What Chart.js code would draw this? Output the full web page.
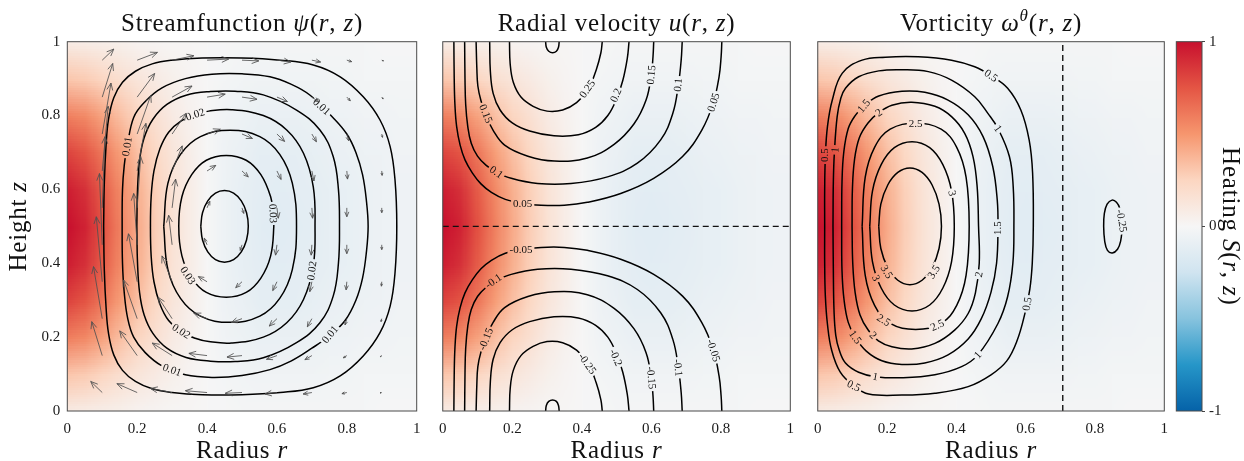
<!DOCTYPE html>
<html><head><meta charset="utf-8">
<script src="https://cdn.jsdelivr.net/npm/chart.js@4.4.1/dist/chart.umd.min.js"></script>
<style>
html,body{margin:0;padding:0;background:#fff;}
#wrap{position:relative;width:1244px;height:461px;overflow:hidden;background:#fff;}
canvas{position:absolute;top:0;}
</style></head><body>
<div id="wrap">
<canvas id="c1" style="left:0px" width="430" height="461"></canvas>
<canvas id="c2" style="left:430px" width="380" height="461"></canvas>
<canvas id="c3" style="left:805px" width="380" height="461"></canvas>
<canvas id="cb" style="left:1168px" width="76" height="461"></canvas>
</div>
<script>
// ---------------- data ----------------
const rTicks = [0, 0.2, 0.4, 0.6, 0.8, 1];
const rTickLabels = ['0', '0.2', '0.4', '0.6', '0.8', '1'];
const zTicks = [0, 0.2, 0.4, 0.6, 0.8, 1];
const zTickLabels = ['0', '0.2', '0.4', '0.6', '0.8', '1'];
const cbTicks = [-1, 0, 1];
const cbTickLabels = ['-1', '0', '1'];

// heating S(r,z): rows z = 0..1 (step 0.1), columns r = 0..1 (step 0.05)
const heatR = [0,0.05,0.1,0.15,0.2,0.25,0.3,0.35,0.4,0.45,0.5,0.55,0.6,0.65,0.7,0.75,0.8,0.85,0.9,0.95,1];
const heatZ = [0,0.1,0.2,0.3,0.4,0.5,0.6,0.7,0.8,0.9,1];
const heatGrid = [
 [0.08,0.07,0.06,0.05,0.03,0.02,0.01,0.01,0,0,-0.01,-0.01,-0.01,-0.01,-0.01,-0.01,-0.01,-0.01,0,0,0],
 [0.31,0.29,0.24,0.18,0.13,0.09,0.05,0.02,0,-0.02,-0.03,-0.04,-0.04,-0.04,-0.04,-0.03,-0.03,-0.02,-0.02,-0.02,-0.02],
 [0.59,0.55,0.45,0.34,0.25,0.17,0.09,0.04,0,-0.04,-0.06,-0.08,-0.08,-0.08,-0.07,-0.06,-0.05,-0.04,-0.04,-0.03,-0.03],
 [0.81,0.75,0.62,0.47,0.34,0.23,0.13,0.06,0,-0.05,-0.08,-0.11,-0.11,-0.11,-0.10,-0.08,-0.07,-0.06,-0.05,-0.04,-0.04],
 [0.95,0.88,0.72,0.55,0.40,0.27,0.15,0.07,0,-0.06,-0.10,-0.12,-0.13,-0.12,-0.11,-0.10,-0.09,-0.07,-0.06,-0.05,-0.05],
 [1.00,0.93,0.76,0.58,0.42,0.28,0.16,0.07,0,-0.06,-0.10,-0.13,-0.14,-0.13,-0.12,-0.10,-0.09,-0.07,-0.06,-0.05,-0.05],
 [0.95,0.88,0.72,0.55,0.40,0.27,0.15,0.07,0,-0.06,-0.10,-0.12,-0.13,-0.12,-0.11,-0.10,-0.09,-0.07,-0.06,-0.05,-0.05],
 [0.81,0.75,0.62,0.47,0.34,0.23,0.13,0.06,0,-0.05,-0.08,-0.11,-0.11,-0.11,-0.10,-0.08,-0.07,-0.06,-0.05,-0.04,-0.04],
 [0.59,0.55,0.45,0.34,0.25,0.17,0.09,0.04,0,-0.04,-0.06,-0.08,-0.08,-0.08,-0.07,-0.06,-0.05,-0.04,-0.04,-0.03,-0.03],
 [0.31,0.29,0.24,0.18,0.13,0.09,0.05,0.02,0,-0.02,-0.03,-0.04,-0.04,-0.04,-0.04,-0.03,-0.03,-0.02,-0.02,-0.02,-0.02],
 [0.08,0.07,0.06,0.05,0.03,0.02,0.01,0.01,0,0,-0.01,-0.01,-0.01,-0.01,-0.01,-0.01,-0.01,-0.01,0,0,0]
];
const cmapStops = [
 [-1,[5,98,168]],[-0.75,[38,150,200]],[-0.5,[135,195,222]],[-0.25,[208,228,240]],
 [0,[246,246,246]],[0.25,[252,214,193]],[0.5,[246,150,110]],[0.75,[228,85,68]],[1,[200,16,46]]
];

// streamfunction contours (closed loops), levels 0.035 ... 0.005
const psiLevels = [0.035,0.03,0.025,0.02,0.015,0.01,0.005];
const psiContours = [
 [[0.382,0.50],[0.387,0.537],[0.402,0.569],[0.424,0.590],[0.45,0.597],[0.476,0.590],[0.498,0.569],[0.513,0.537],[0.518,0.50],[0.513,0.463],[0.498,0.431],[0.476,0.410],[0.45,0.403],[0.424,0.410],[0.402,0.431],[0.387,0.463],[0.382,0.50]],
 [[0.589,0.535],[0.582,0.580],[0.554,0.640],[0.512,0.679],[0.455,0.692],[0.398,0.679],[0.356,0.640],[0.328,0.580],[0.319,0.50],[0.328,0.420],[0.356,0.360],[0.398,0.321],[0.455,0.308],[0.512,0.321],[0.554,0.360],[0.582,0.420],[0.591,0.50],[0.589,0.535]],
 [[0.276,0.50],[0.288,0.617],[0.324,0.695],[0.381,0.743],[0.466,0.76],[0.551,0.743],[0.608,0.695],[0.644,0.617],[0.656,0.50],[0.644,0.383],[0.608,0.305],[0.551,0.257],[0.466,0.24],[0.381,0.257],[0.324,0.305],[0.288,0.383],[0.276,0.50]],
 [[0.366,0.803],[0.405,0.812],[0.47,0.816],[0.561,0.80],[0.628,0.761],[0.676,0.698],[0.704,0.607],[0.709,0.50],[0.704,0.393],[0.676,0.302],[0.628,0.239],[0.561,0.20],[0.47,0.184],[0.405,0.188],[0.366,0.197],[0.325,0.215],[0.29,0.245],[0.265,0.29],[0.248,0.35],[0.24,0.42],[0.238,0.50],[0.24,0.58],[0.248,0.65],[0.265,0.71],[0.29,0.755],[0.325,0.785],[0.366,0.803]],
 [[0.199,0.50],[0.201,0.60],[0.207,0.68],[0.22,0.74],[0.245,0.79],[0.285,0.83],[0.34,0.855],[0.41,0.865],[0.48,0.866],[0.561,0.856],[0.656,0.815],[0.723,0.761],[0.761,0.689],[0.776,0.60],[0.779,0.50],[0.776,0.40],[0.761,0.311],[0.723,0.239],[0.656,0.185],[0.561,0.144],[0.48,0.134],[0.41,0.135],[0.34,0.145],[0.285,0.17],[0.245,0.21],[0.22,0.26],[0.207,0.32],[0.201,0.40],[0.199,0.50]],
 [[0.171,0.716],[0.19,0.795],[0.223,0.838],[0.271,0.875],[0.338,0.900],[0.414,0.912],[0.50,0.913],[0.58,0.905],[0.64,0.885],[0.695,0.855],[0.76,0.795],[0.80,0.75],[0.826,0.70],[0.845,0.64],[0.856,0.57],[0.861,0.50],[0.856,0.43],[0.845,0.36],[0.826,0.30],[0.795,0.245],[0.752,0.205],[0.70,0.17],[0.64,0.135],[0.58,0.112],[0.50,0.096],[0.414,0.091],[0.338,0.098],[0.271,0.122],[0.223,0.158],[0.19,0.2],[0.173,0.25],[0.163,0.32],[0.158,0.40],[0.157,0.50],[0.158,0.60],[0.163,0.665],[0.171,0.716]],
 [[0.104,0.50],[0.106,0.62],[0.111,0.72],[0.118,0.79],[0.133,0.848],[0.158,0.89],[0.195,0.920],[0.243,0.940],[0.30,0.950],[0.386,0.956],[0.50,0.956],[0.609,0.950],[0.704,0.937],[0.781,0.905],[0.847,0.851],[0.895,0.788],[0.924,0.716],[0.938,0.625],[0.943,0.50],[0.938,0.375],[0.924,0.284],[0.895,0.212],[0.847,0.149],[0.781,0.095],[0.704,0.063],[0.609,0.050],[0.50,0.044],[0.386,0.044],[0.30,0.050],[0.243,0.060],[0.195,0.080],[0.158,0.110],[0.133,0.152],[0.118,0.21],[0.111,0.28],[0.106,0.38],[0.104,0.50]]
];
// [r, z, text, rotation deg]
const psiLabels = [
 [0.171,0.716,'0.01',-80],[0.728,0.824,'0.01',42],[0.752,0.207,'0.01',-50],[0.30,0.111,'0.01',20],
 [0.366,0.803,'0.02',-18],[0.326,0.216,'0.02',32],[0.70,0.38,'0.02',-82],
 [0.589,0.535,'0.03',88],[0.345,0.367,'0.03',56]
];
// quiver: tails at r = quiverR, z = quiverZ; drawn displacement (dr, dz)
const quiverR = [0.1,0.2,0.3,0.4,0.5,0.6,0.7,0.8,0.9];
const quiverZ = [0.05,0.15,0.25,0.35,0.45,0.55,0.65,0.75,0.85,0.95];
const quiverDR = [
 [-0.033,-0.058,-0.062,-0.062,-0.048,-0.034,-0.025,-0.014,-0.005],
 [-0.030,-0.050,-0.057,-0.052,-0.043,-0.030,-0.020,-0.010,-0.004],
 [-0.025,-0.039,-0.040,-0.038,-0.030,-0.022,-0.013,-0.005,-0.002],
 [-0.017,-0.025,-0.029,-0.025,-0.018,-0.012,-0.006,-0.002,-0.001],
 [-0.008,-0.010,-0.010,-0.008,-0.005,-0.004,-0.002,0,0],
 [0.008,0.010,0.010,0.008,0.005,0.004,0.002,0,0],
 [0.017,0.025,0.029,0.025,0.018,0.012,0.006,0.002,0.001],
 [0.025,0.039,0.040,0.038,0.030,0.022,0.013,0.005,0.002],
 [0.030,0.050,0.057,0.052,0.043,0.030,0.020,0.010,0.004],
 [0.033,0.058,0.062,0.062,0.048,0.040,0.025,0.014,0.005]
];
const quiverDZ = [
 [0.030,0.024,0.011,0.005,-0.002,-0.004,-0.004,-0.003,-0.001],
 [0.092,0.067,0.034,0.006,-0.004,-0.010,-0.011,-0.006,-0.003],
 [0.141,0.105,0.058,0.015,-0.010,-0.020,-0.022,-0.017,-0.008],
 [0.176,0.130,0.070,0.014,-0.016,-0.024,-0.027,-0.022,-0.012],
 [0.193,0.139,0.080,0.018,-0.015,-0.028,-0.028,-0.024,-0.013],
 [0.193,0.139,0.078,0.018,-0.015,-0.028,-0.028,-0.024,-0.013],
 [0.175,0.129,0.068,0.015,-0.016,-0.023,-0.027,-0.022,-0.012],
 [0.138,0.105,0.056,0.013,-0.012,-0.020,-0.021,-0.018,-0.009],
 [0.091,0.064,0.030,0.008,-0.006,-0.012,-0.013,-0.010,-0.005],
 [0.030,0.021,0.012,0.003,-0.002,-0.005,-0.005,-0.004,-0.002]
];

// radial velocity contours (open curves)
const uLevels = [0.05,0.1,0.15,0.2,0.25,0.3,-0.05,-0.1,-0.15,-0.2,-0.25,-0.3];
const uContours = [
 [[0.032,1.0],[0.033,0.90],[0.035,0.83],[0.040,0.77],[0.050,0.72],[0.064,0.68],[0.085,0.645],[0.110,0.615],[0.140,0.592],[0.180,0.573],[0.230,0.562],[0.283,0.557],[0.35,0.557],[0.416,0.565],[0.512,0.589],[0.607,0.630],[0.690,0.689],[0.745,0.76],[0.778,0.833],[0.795,0.905],[0.801,0.96],[0.803,1.0]],
 [[0.063,1.0],[0.064,0.90],[0.066,0.83],[0.072,0.77],[0.082,0.725],[0.100,0.69],[0.125,0.665],[0.154,0.647],[0.197,0.630],[0.273,0.616],[0.369,0.616],[0.474,0.634],[0.560,0.671],[0.627,0.734],[0.662,0.806],[0.678,0.883],[0.686,0.950],[0.689,1.0]],
 [[0.096,1.0],[0.098,0.93],[0.101,0.88],[0.110,0.84],[0.125,0.80],[0.145,0.76],[0.178,0.72],[0.245,0.69],[0.321,0.677],[0.416,0.685],[0.493,0.722],[0.550,0.777],[0.585,0.842],[0.600,0.91],[0.605,0.96],[0.607,1.0]],
 [[0.135,1.0],[0.137,0.92],[0.145,0.86],[0.165,0.815],[0.20,0.78],[0.25,0.758],[0.32,0.745],[0.39,0.748],[0.44,0.768],[0.475,0.80],[0.50,0.845],[0.518,0.895],[0.531,0.955],[0.536,1.0]],
 [[0.192,1.0],[0.194,0.94],[0.203,0.89],[0.225,0.85],[0.26,0.825],[0.30,0.812],[0.345,0.815],[0.385,0.835],[0.418,0.87],[0.442,0.925],[0.455,0.97],[0.459,1.0]],
 [[0.296,1.0],[0.298,0.985],[0.305,0.974],[0.316,0.970],[0.327,0.974],[0.333,0.985],[0.335,1.0]],
 [[0.032,0.0],[0.033,0.10],[0.035,0.17],[0.040,0.23],[0.050,0.28],[0.064,0.32],[0.085,0.355],[0.110,0.385],[0.140,0.408],[0.180,0.427],[0.230,0.438],[0.283,0.443],[0.35,0.443],[0.416,0.435],[0.512,0.411],[0.607,0.370],[0.690,0.311],[0.745,0.24],[0.778,0.167],[0.795,0.095],[0.801,0.04],[0.803,0.0]],
 [[0.063,0.0],[0.064,0.10],[0.066,0.17],[0.072,0.23],[0.082,0.275],[0.100,0.31],[0.125,0.335],[0.154,0.353],[0.197,0.370],[0.273,0.384],[0.369,0.384],[0.474,0.366],[0.560,0.329],[0.627,0.266],[0.662,0.194],[0.678,0.117],[0.686,0.050],[0.689,0.0]],
 [[0.096,0.0],[0.098,0.07],[0.101,0.12],[0.110,0.16],[0.125,0.20],[0.145,0.24],[0.178,0.28],[0.245,0.31],[0.321,0.323],[0.416,0.315],[0.493,0.278],[0.550,0.223],[0.585,0.158],[0.600,0.09],[0.605,0.04],[0.607,0.0]],
 [[0.135,0.0],[0.137,0.08],[0.145,0.14],[0.165,0.185],[0.20,0.22],[0.25,0.242],[0.32,0.255],[0.39,0.252],[0.44,0.232],[0.475,0.20],[0.50,0.155],[0.518,0.105],[0.531,0.045],[0.536,0.0]],
 [[0.192,0.0],[0.194,0.06],[0.203,0.11],[0.225,0.15],[0.26,0.175],[0.30,0.188],[0.345,0.185],[0.385,0.165],[0.418,0.13],[0.442,0.075],[0.455,0.03],[0.459,0.0]],
 [[0.296,0.0],[0.298,0.015],[0.305,0.026],[0.316,0.030],[0.327,0.026],[0.333,0.015],[0.335,0.0]]
];
const uLabels = [
 [0.23,0.562,'0.05',0],[0.779,0.836,'0.05',-72],[0.154,0.647,'0.1',35],[0.677,0.883,'0.1',-84],
 [0.124,0.805,'0.15',68],[0.600,0.91,'0.15',-85],[0.498,0.855,'0.2',-66],[0.416,0.872,'0.25',-55],
 [0.225,0.438,'-0.05',0],[0.779,0.164,'-0.05',72],[0.146,0.352,'-0.1',-35],[0.677,0.117,'-0.1',84],
 [0.124,0.195,'-0.15',-68],[0.600,0.09,'-0.15',85],[0.498,0.145,'-0.2',66],[0.416,0.128,'-0.25',55]
];
const uZeroLine = [[0,0.5],[1,0.5]];

// vorticity contours (closed loops)
const omegaLevels = [0.5,1,1.5,2,2.5,3,3.5,-0.25];
const omegaContours = [
 [[0.020,0.50],[0.020,0.60],[0.022,0.69],[0.028,0.77],[0.042,0.842],[0.071,0.915],[0.128,0.950],[0.195,0.958],[0.290,0.959],[0.386,0.950],[0.453,0.932],[0.50,0.908],[0.548,0.874],[0.586,0.815],[0.610,0.734],[0.620,0.644],[0.622,0.50],[0.619,0.40],[0.612,0.33],[0.598,0.265],[0.575,0.19],[0.545,0.135],[0.50,0.098],[0.434,0.066],[0.338,0.048],[0.243,0.043],[0.147,0.046],[0.104,0.068],[0.065,0.105],[0.040,0.165],[0.028,0.235],[0.022,0.31],[0.020,0.40],[0.020,0.50]],
 [[0.044,0.50],[0.045,0.62],[0.048,0.70],[0.056,0.797],[0.066,0.845],[0.080,0.874],[0.118,0.905],[0.176,0.921],[0.243,0.924],[0.319,0.919],[0.386,0.896],[0.453,0.851],[0.491,0.806],[0.52,0.765],[0.553,0.689],[0.564,0.607],[0.566,0.50],[0.563,0.40],[0.548,0.31],[0.52,0.237],[0.462,0.152],[0.415,0.12],[0.338,0.098],[0.243,0.090],[0.166,0.093],[0.118,0.105],[0.080,0.13],[0.062,0.165],[0.052,0.205],[0.047,0.27],[0.045,0.38],[0.044,0.50]],
 [[0.069,0.50],[0.070,0.62],[0.075,0.70],[0.088,0.765],[0.108,0.80],[0.133,0.826],[0.176,0.853],[0.243,0.866],[0.309,0.863],[0.376,0.842],[0.434,0.802],[0.477,0.743],[0.505,0.662],[0.518,0.571],[0.520,0.50],[0.516,0.40],[0.50,0.322],[0.472,0.25],[0.434,0.195],[0.376,0.152],[0.309,0.130],[0.243,0.126],[0.185,0.136],[0.14,0.162],[0.108,0.20],[0.088,0.24],[0.076,0.30],[0.070,0.38],[0.069,0.50]],
 [[0.099,0.50],[0.100,0.60],[0.106,0.68],[0.120,0.74],[0.145,0.78],[0.176,0.808],[0.214,0.828],[0.271,0.836],[0.338,0.825],[0.386,0.797],[0.424,0.752],[0.448,0.689],[0.460,0.607],[0.464,0.50],[0.466,0.40],[0.455,0.32],[0.434,0.264],[0.395,0.219],[0.338,0.183],[0.271,0.168],[0.214,0.174],[0.175,0.19],[0.145,0.22],[0.122,0.26],[0.108,0.32],[0.101,0.40],[0.099,0.50]],
 [[0.128,0.50],[0.137,0.633],[0.164,0.714],[0.209,0.763],[0.2825,0.779],[0.356,0.763],[0.401,0.714],[0.428,0.633],[0.437,0.50],[0.428,0.367],[0.401,0.286],[0.356,0.237],[0.2825,0.221],[0.209,0.237],[0.164,0.286],[0.137,0.367],[0.128,0.50]],
 [[0.150,0.50],[0.158,0.596],[0.183,0.667],[0.221,0.713],[0.272,0.729],[0.323,0.713],[0.361,0.667],[0.386,0.596],[0.394,0.50],[0.386,0.404],[0.361,0.333],[0.323,0.287],[0.272,0.271],[0.221,0.287],[0.183,0.333],[0.158,0.404],[0.150,0.50]],
 [[0.176,0.50],[0.182,0.560],[0.202,0.612],[0.231,0.646],[0.266,0.658],[0.301,0.646],[0.330,0.612],[0.350,0.560],[0.357,0.50],[0.350,0.44],[0.330,0.388],[0.301,0.354],[0.266,0.342],[0.231,0.354],[0.202,0.388],[0.182,0.44],[0.176,0.50]],
 [[0.879,0.50],[0.878,0.522],[0.872,0.548],[0.862,0.565],[0.849,0.571],[0.835,0.56],[0.827,0.535],[0.825,0.50],[0.828,0.46],[0.836,0.435],[0.85,0.428],[0.865,0.438],[0.874,0.46],[0.879,0.50]]
];
const omegaLabels = [
 [0.021,0.693,'0.5',-90],[0.05,0.707,'1',-85],[0.50,0.908,'0.5',35],[0.52,0.765,'1',55],
 [0.133,0.826,'1.5',-50],[0.176,0.808,'2',-35],[0.2825,0.779,'2.5',0],[0.388,0.59,'3',78],
 [0.52,0.495,'1.5',-90],[0.199,0.377,'3.5',58],[0.335,0.377,'3.5',-58],[0.168,0.36,'3',68],
 [0.465,0.37,'2',-80],[0.604,0.29,'0.5',-80],[0.19,0.246,'2.5',32],[0.345,0.232,'2.5',-25],
 [0.16,0.205,'2',45],[0.108,0.20,'1.5',55],[0.166,0.093,'1',10],[0.462,0.152,'1',-48],
 [0.104,0.068,'0.5',25],[0.877,0.515,'-0.25',80]
];
const omegaZeroLine = [[0.707,0],[0.707,1]];

// ---------------- rendering helpers ----------------
const SERIF = '"Liberation Serif","Times New Roman",serif';
function cmap(v){
  v = Math.max(-1, Math.min(1, v));
  for (let i = 0; i < cmapStops.length - 1; i++){
    const [a, ca] = cmapStops[i], [b, cb] = cmapStops[i+1];
    if (v <= b){
      const t = (v - a) / (b - a);
      return ca.map((c, k) => Math.round(c + (cb[k] - c) * t));
    }
  }
  return cmapStops[cmapStops.length-1][1];
}
const heatImg = (() => {
  const c = document.createElement('canvas');
  c.width = heatR.length; c.height = heatZ.length;
  const g = c.getContext('2d');
  const img = g.createImageData(c.width, c.height);
  for (let j = 0; j < heatZ.length; j++){
    const row = heatZ.length - 1 - j;
    for (let i = 0; i < heatR.length; i++){
      const col = cmap(heatGrid[j][i]);
      const o = (row * c.width + i) * 4;
      img.data[o] = col[0]; img.data[o+1] = col[1]; img.data[o+2] = col[2]; img.data[o+3] = 255;
    }
  }
  g.putImageData(img, 0, 0);
  return c;
})();
function drawHeat(ctx, xs, ys){
  const dr = heatR[1] - heatR[0], dz = heatZ[1] - heatZ[0];
  const x0 = xs.getPixelForValue(heatR[0] - dr/2), x1 = xs.getPixelForValue(heatR[heatR.length-1] + dr/2);
  const yT = ys.getPixelForValue(heatZ[heatZ.length-1] + dz/2), yB = ys.getPixelForValue(heatZ[0] - dz/2);
  ctx.imageSmoothingEnabled = true;
  ctx.drawImage(heatImg, x0, yT, x1 - x0, yB - yT);
}
function runsWidth(ctx, runs){
  let w = 0;
  for (const r of runs){ ctx.font = r.f; w += ctx.measureText(r.t).width; }
  return w;
}
function drawRuns(ctx, runs, x, y, rot){
  ctx.save();
  ctx.translate(x, y); ctx.rotate(rot || 0);
  try { ctx.letterSpacing = '0.8px'; } catch(e) {}
  ctx.textAlign = 'left'; ctx.textBaseline = 'alphabetic'; ctx.fillStyle = '#111';
  const w = runsWidth(ctx, runs);
  let cx = -w / 2;
  for (const r of runs){ ctx.font = r.f; ctx.fillText(r.t, cx, r.dy || 0); cx += ctx.measureText(r.t).width; }
  ctx.restore();
}
const F = (s) => `${s}px ${SERIF}`, FI = (s) => `italic ${s}px ${SERIF}`;
function mathRuns(pre, sym, sup){
  const out = [{t: pre, f: F(25)}, {t: sym, f: FI(25)}];
  if (sup) out.push({t: sup, f: FI(17), dy: -10});
  out.push({t: '(', f: F(25)}, {t: 'r', f: FI(25)}, {t: ', ', f: F(25)}, {t: 'z', f: FI(25)}, {t: ')', f: F(25)});
  return out;
}
function drawArrow(ctx, x0, y0, x1, y1){
  const dx = x1 - x0, dy = y1 - y0, L = Math.hypot(dx, dy);
  if (L < 0.8){ ctx.beginPath(); ctx.arc(x0, y0, 0.6, 0, 2*Math.PI); ctx.fill(); return; }
  const ux = dx / L, uy = dy / L;
  const hl = Math.min(7, L * 0.55), hw = hl * 0.42;
  ctx.beginPath(); ctx.moveTo(x0, y0); ctx.lineTo(x1, y1); ctx.stroke();
  ctx.beginPath();
  ctx.moveTo(x1 - ux*hl - uy*hw, y1 - uy*hl + ux*hw);
  ctx.lineTo(x1, y1);
  ctx.lineTo(x1 - ux*hl + uy*hw, y1 - uy*hl - ux*hw);
  ctx.stroke();
}

const deco = {
  id: 'deco',
  beforeDatasetsDraw(chart, args, o){
    if (!o.heat) return;
    const {ctx, chartArea: a} = chart;
    ctx.save(); ctx.beginPath(); ctx.rect(a.left, a.top, a.width, a.height); ctx.clip();
    drawHeat(ctx, chart.scales.x, chart.scales.y);
    ctx.restore();
  },
  afterDatasetsDraw(chart, args, o){
    const {ctx, chartArea: a} = chart, xs = chart.scales.x, ys = chart.scales.y;
    ctx.save(); ctx.beginPath(); ctx.rect(a.left, a.top, a.width, a.height); ctx.clip();
    if (o.labels){
      ctx.font = F(11);
      for (const L of o.labels){
        const px = xs.getPixelForValue(L[0]), py = ys.getPixelForValue(L[1]);
        const w = ctx.measureText(L[2]).width + 4, h = 10, ang = L[3] * Math.PI / 180;
        ctx.save();
        ctx.translate(px, py); ctx.rotate(ang);
        ctx.beginPath(); ctx.rect(-w/2, -h/2, w, h);
        ctx.rotate(-ang); ctx.translate(-px, -py);
        ctx.clip();
        drawHeat(ctx, xs, ys);
        ctx.restore();
      }
      ctx.fillStyle = '#111'; ctx.textAlign = 'center'; ctx.textBaseline = 'middle';
      for (const L of o.labels){
        const px = xs.getPixelForValue(L[0]), py = ys.getPixelForValue(L[1]);
        ctx.save(); ctx.translate(px, py); ctx.rotate(L[3] * Math.PI / 180);
        ctx.font = F(11); ctx.fillText(L[2], 0, 0.5);
        ctx.restore();
      }
    }
    if (o.quiver){
      ctx.strokeStyle = 'rgba(80,80,80,0.85)'; ctx.fillStyle = 'rgba(80,80,80,0.85)'; ctx.lineWidth = 1;
      for (let j = 0; j < quiverZ.length; j++){
        for (let i = 0; i < quiverR.length; i++){
          const r = quiverR[i], z = quiverZ[j];
          drawArrow(ctx, xs.getPixelForValue(r), ys.getPixelForValue(z),
            xs.getPixelForValue(r + quiverDR[j][i]), ys.getPixelForValue(z + quiverDZ[j][i]));
        }
      }
    }
    ctx.restore();
  },
  afterDraw(chart, args, o){
    const {ctx, chartArea: a} = chart;
    if (o.gradient){
      const ys = chart.scales.y;
      const g = ctx.createLinearGradient(0, a.top, 0, a.bottom);
      for (const [v, c] of cmapStops){
        const t = (ys.getPixelForValue(v) - a.top) / (a.bottom - a.top);
        g.addColorStop(Math.max(0, Math.min(1, t)), `rgb(${c[0]},${c[1]},${c[2]})`);
      }
      ctx.fillStyle = g; ctx.fillRect(a.left, a.top, a.width, a.height);
    }
    ctx.save();
    ctx.strokeStyle = '#4a4a4a'; ctx.lineWidth = 1;
    ctx.strokeRect(a.left, a.top, a.width, a.height);
    ctx.restore();
    const cx = (a.left + a.right) / 2;
    if (o.title) drawRuns(ctx, o.title, cx, 31, 0);
    if (o.xlabel) drawRuns(ctx, o.xlabel, cx, 458, 0);
    if (o.ylabel) drawRuns(ctx, o.ylabel, 26, (a.top + a.bottom) / 2, -Math.PI / 2);
    if (o.cblabel) drawRuns(ctx, o.cblabel, 55, (a.top + a.bottom) / 2, Math.PI / 2);
  }
};

function lineSets(contours){
  return contours.map(pts => ({
    type: 'scatter', data: pts.map(p => ({x: p[0], y: p[1]})), showLine: true,
    borderColor: '#000', borderWidth: 1.5, pointRadius: 0, tension: 0.4, fill: false
  }));
}
function dashSet(pts){
  return {type: 'scatter', data: pts.map(p => ({x: p[0], y: p[1]})), showLine: true,
    borderColor: '#111', borderWidth: 1.4, borderDash: [6, 4], pointRadius: 0, tension: 0, fill: false};
}
const tickFont = {family: SERIF, size: 15};
function xAxis(){
  return {
    type: 'linear', min: 0, max: 1,
    afterBuildTicks: s => { s.ticks = rTicks.map(v => ({value: v})); },
    afterFit: s => { s.height = 50; },
    grid: {display: false, drawTicks: false}, border: {display: false},
    ticks: {font: tickFont, color: '#1a1a1a', padding: 9, maxRotation: 0, autoSkip: false,
      callback: (v, i) => rTickLabels[i]}
  };
}
function yAxis(show){
  const ax = {type: 'linear', min: 0, max: 1, display: show,
    afterBuildTicks: s => { s.ticks = zTicks.map(v => ({value: v})); },
    grid: {display: false, drawTicks: false}, border: {display: false},
    ticks: {font: tickFont, color: '#1a1a1a', padding: 7, autoSkip: false,
      callback: (v, i) => zTickLabels[i]}};
  if (show) ax.afterFit = s => { s.width = 67.3; };
  return ax;
}
function panel(id, datasets, deco_opts, padLeft, padRight, showY){
  return new Chart(document.getElementById(id), {
    type: 'scatter',
    data: {datasets},
    options: {
      responsive: false, animation: false, events: [], devicePixelRatio: 1,
      layout: {padding: {left: padLeft, right: padRight, top: 41.7, bottom: 0}},
      plugins: {legend: {display: false}, tooltip: {enabled: false}, deco: deco_opts},
      scales: {x: xAxis(), y: yAxis(showY)}
    },
    plugins: [deco]
  });
}
const xlab = () => [{t: 'Radius ', f: F(25)}, {t: 'r', f: FI(25)}];

panel('c1', lineSets(psiContours),
  {heat: true, labels: psiLabels, quiver: true, title: mathRuns('Streamfunction ', 'ψ'),
   xlabel: xlab(), ylabel: [{t: 'Height ', f: F(25)}, {t: 'z', f: FI(25)}]}, 0, 13.3, true);
panel('c2', lineSets(uContours).concat([dashSet(uZeroLine)]),
  {heat: true, labels: uLabels, title: mathRuns('Radial velocity ', 'u'), xlabel: xlab()}, 11.3, 19.7, false);
panel('c3', lineSets(omegaContours).concat([dashSet(omegaZeroLine)]),
  {heat: true, labels: omegaLabels, title: mathRuns('Vorticity ', 'ω', 'θ'), xlabel: xlab()}, 10.3, 20.7, false);

new Chart(document.getElementById('cb'), {
  type: 'scatter', data: {datasets: []},
  options: {
    responsive: false, animation: false, events: [], devicePixelRatio: 1,
    layout: {padding: {left: 8.3, right: 0, top: 41.7, bottom: 50}},
    plugins: {legend: {display: false}, tooltip: {enabled: false},
      deco: {gradient: true,
        cblabel: [{t: 'Heating ', f: F(25)}, {t: 'S', f: FI(25)}, {t: '(', f: F(25)}, {t: 'r', f: FI(25)},
                  {t: ', ', f: F(25)}, {t: 'z', f: FI(25)}, {t: ')', f: F(25)}]}},
    scales: {
      x: {type: 'linear', display: false, min: 0, max: 1},
      y: {type: 'linear', position: 'right', min: -1, max: 1,
        afterBuildTicks: s => { s.ticks = cbTicks.map(v => ({value: v})); },
        afterFit: s => { s.width = 42; },
        grid: {display: true, drawOnChartArea: false, drawTicks: true, tickLength: 3, color: '#444'},
        border: {display: false},
        ticks: {font: tickFont, color: '#1a1a1a', padding: 4, callback: (v, i) => cbTickLabels[i]}}
    }
  },
  plugins: [deco]
});
</script>
</body></html>
